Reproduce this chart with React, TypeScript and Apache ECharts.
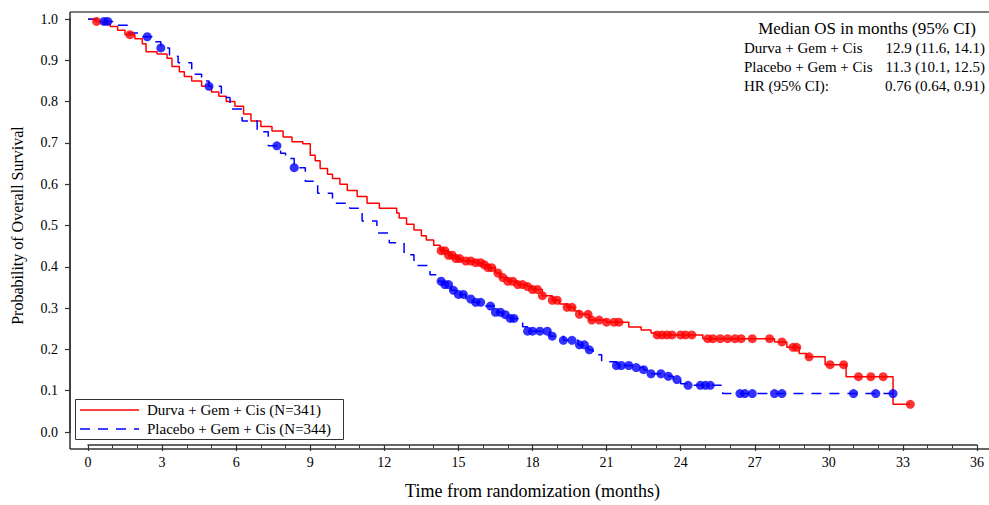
import React, { useEffect, useRef } from "react";
import * as echarts from "echarts";

// ---- Data ----
const xTicks = [0, 3, 6, 9, 12, 15, 18, 21, 24, 27, 30, 33, 36];

const durvaName = "Durva + Gem + Cis (N=341)";
const placeboName = "Placebo + Gem + Cis (N=344)";

// Kaplan-Meier step points (event time, survival after event)
const durvaT = [0, 0.3, 0.6, 0.9, 1.2, 1.5, 1.9, 2.2, 2.35, 2.8, 3.2, 3.4, 3.7, 3.9, 4.2, 4.6, 5.0, 5.3, 5.6, 5.95, 6.3, 6.6, 7.0, 7.45, 7.9, 8.26, 8.7, 9.0, 9.2, 9.4, 9.7, 9.9, 10.2, 10.5, 10.9, 11.3, 11.8, 12.5, 12.6, 12.9, 13.2, 13.5, 13.7, 14.0, 14.26, 14.6, 14.9, 15.1, 15.7, 16.0, 16.2, 16.5, 16.7, 17.0, 17.4, 17.8, 18.0, 18.4, 18.8, 19.1, 19.4, 19.7, 19.9, 20.3, 21.0, 21.9, 22.4, 22.8, 23.0, 24.9, 27.8, 28.3, 28.8, 29.1, 29.85, 30.7, 32.6, 33.3];
const durvaS = [1.0, 0.994, 0.988, 0.982, 0.973, 0.962, 0.952, 0.94, 0.921, 0.915, 0.905, 0.885, 0.872, 0.861, 0.85, 0.837, 0.823, 0.813, 0.8, 0.789, 0.77, 0.753, 0.74, 0.729, 0.714, 0.703, 0.698, 0.67, 0.657, 0.638, 0.624, 0.614, 0.6, 0.585, 0.57, 0.554, 0.542, 0.53, 0.518, 0.503, 0.489, 0.475, 0.465, 0.452, 0.439, 0.428, 0.42, 0.414, 0.41, 0.405, 0.398, 0.385, 0.374, 0.365, 0.357, 0.352, 0.345, 0.33, 0.319, 0.31, 0.302, 0.293, 0.285, 0.271, 0.266, 0.254, 0.247, 0.24, 0.235, 0.226, 0.218, 0.205, 0.19, 0.182, 0.163, 0.134, 0.067, 0.067];
const durvaCensor = [0.35, 1.7, 14.3, 14.45, 14.6, 14.75, 14.9, 15.05, 15.3, 15.5, 15.7, 15.9, 16.05, 16.2, 16.35, 16.6, 16.8, 17.0, 17.2, 17.4, 17.6, 17.8, 18.0, 18.2, 18.4, 18.8, 19.0, 19.4, 19.6, 19.9, 20.25, 20.4, 20.7, 21.0, 21.3, 21.5, 23.05, 23.25, 23.45, 23.65, 24.0, 24.2, 24.45, 25.1, 25.3, 25.6, 25.9, 26.2, 26.45, 26.9, 27.6, 28.1, 28.55, 28.7, 29.2, 30.05, 30.6, 31.2, 31.7, 32.2, 33.3];

const placeboT = [0, 0.5, 1.0, 1.6, 2.1, 2.6, 2.95, 3.3, 3.65, 4.2, 4.6, 4.9, 5.4, 5.75, 6.24, 6.85, 7.3, 7.8, 8.0, 8.35, 8.8, 9.3, 9.9, 10.6, 11.1, 11.7, 12.2, 12.8, 13.2, 13.85, 14.2, 14.4, 14.7, 14.9, 15.3, 15.6, 16.1, 16.5, 16.8, 17.1, 17.4, 17.6, 17.8, 18.7, 19.25, 19.85, 20.25, 20.45, 20.8, 21.4, 22.1, 22.5, 22.8, 23.5, 23.7, 24.0, 24.3, 25.7, 32.6];
const placeboS = [1.0, 0.994, 0.985, 0.966, 0.957, 0.945, 0.93, 0.91, 0.894, 0.866, 0.85, 0.837, 0.81, 0.782, 0.753, 0.727, 0.693, 0.675, 0.662, 0.64, 0.607, 0.578, 0.554, 0.542, 0.511, 0.482, 0.458, 0.429, 0.403, 0.381, 0.365, 0.357, 0.343, 0.333, 0.322, 0.314, 0.305, 0.29, 0.284, 0.275, 0.27, 0.255, 0.244, 0.232, 0.222, 0.211, 0.199, 0.187, 0.17, 0.161, 0.156, 0.151, 0.141, 0.135, 0.127, 0.117, 0.113, 0.093, 0.093];
const placeboCensor = [0.65, 0.8, 2.4, 2.95, 4.9, 7.65, 8.35, 14.3, 14.45, 14.6, 14.8, 15.0, 15.2, 15.5, 15.7, 15.9, 16.3, 16.5, 16.7, 16.9, 17.1, 17.25, 17.8, 18.0, 18.3, 18.6, 18.8, 19.25, 19.6, 19.9, 20.1, 20.3, 21.4, 21.6, 21.9, 22.2, 22.5, 22.8, 23.2, 23.5, 23.85, 24.3, 24.8, 25.0, 25.2, 26.4, 26.6, 26.9, 27.8, 28.1, 31.0, 31.9, 32.6];

const medianTitle = "Median OS in months (95% CI)";
const medianRows = [
  ["Durva + Gem + Cis", "12.9 (11.6, 14.1)"],
  ["Placebo + Gem + Cis", "11.3 (10.1, 12.5)"],
  ["HR (95% CI):", "0.76 (0.64, 0.91)"],
];

const RED = "#ff0000";
const BLUE = "#0000ff";
const FONT = "Liberation Serif";

function survAt(ts: number[], ss: number[], t: number) {
  let s = ss[0];
  for (let i = 0; i < ts.length; i++) {
    if (ts[i] <= t) s = ss[i];
    else break;
  }
  return s;
}

export default function App() {
  const ref = useRef<HTMLDivElement>(null);
  useEffect(() => {
    if (!ref.current) return;
    const chart = echarts.init(ref.current, null, { renderer: "svg" });
    const durvaLine = durvaT.map((t, i) => [t, durvaS[i]]);
    const placeboLine = placeboT.map((t, i) => [t, placeboS[i]]);
    const durvaC = durvaCensor.map((t) => [t, survAt(durvaT, durvaS, t)]);
    const placeboC = placeboCensor.map((t) => [t, survAt(placeboT, placeboS, t)]);

    const graphics: any[] = [];
    // plot frame
    graphics.push({
      type: "line",
      shape: { x1: 70, y1: 12, x2: 989, y2: 12 },
      style: { stroke: "#555", lineWidth: 1.5 },
      silent: true,
    });
    graphics.push({
      type: "line",
      shape: { x1: 70, y1: 12, x2: 70, y2: 449 },
      style: { stroke: "#333", lineWidth: 1.5 },
      silent: true,
    });
    graphics.push({
      type: "line",
      shape: { x1: 70, y1: 449, x2: 989, y2: 449 },
      style: { stroke: "#333", lineWidth: 1.5 },
      silent: true,
    });
    graphics.push({
      type: "text",
      x: 867,
      y: 28,
      style: { text: medianTitle, font: `17px "${FONT}"`, fill: "#000", align: "center", verticalAlign: "middle" },
    });
    medianRows.forEach((r, i) => {
      const y = 48 + i * 19;
      graphics.push({
        type: "text",
        x: 744,
        y,
        style: { text: r[0], font: `15px "${FONT}"`, fill: "#000", align: "left", verticalAlign: "middle" },
      });
      graphics.push({
        type: "text",
        x: 985,
        y,
        style: { text: r[1], font: `15px "${FONT}"`, fill: "#000", align: "right", verticalAlign: "middle" },
      });
    });
    graphics.push({
      type: "rect",
      shape: { x: 75.5, y: 399.5, width: 268, height: 40 },
      style: { fill: "#fff", stroke: "#333", lineWidth: 1 },
      z: 10,
    });
    graphics.push({
      type: "line",
      shape: { x1: 80, y1: 410, x2: 139, y2: 410 },
      style: { stroke: RED, lineWidth: 1.5 },
      z: 11,
    });
    graphics.push({
      type: "line",
      shape: { x1: 80, y1: 429, x2: 139, y2: 429 },
      style: { stroke: BLUE, lineWidth: 1.5, lineDash: [10, 8] },
      z: 11,
    });
    graphics.push({
      type: "text",
      x: 147,
      y: 410,
      style: { text: durvaName, font: `15px "${FONT}"`, fill: "#000", verticalAlign: "middle" },
      z: 11,
    });
    graphics.push({
      type: "text",
      x: 147,
      y: 429,
      style: { text: placeboName, font: `15px "${FONT}"`, fill: "#000", verticalAlign: "middle" },
      z: 11,
    });

    chart.setOption({
      animation: false,
      backgroundColor: "#fff",
      grid: { left: 88, right: 12, top: 19, bottom: 69, containLabel: false },
      xAxis: {
        type: "value",
        min: 0,
        max: 36,
        interval: 3,
        offset: 13,
        name: "Time from randomization (months)",
        nameLocation: "middle",
        nameGap: 37,
        nameTextStyle: { fontFamily: FONT, fontSize: 18, color: "#000" },
        axisLine: { show: true, onZero: false, lineStyle: { color: "#333", width: 1.5 } },
        axisTick: { show: true, inside: false, length: 6, lineStyle: { color: "#333", width: 1.2 } },
        minorTick: { show: true, splitNumber: 3, length: 3, lineStyle: { color: "#333", width: 1 } },
        axisLabel: {
          fontFamily: FONT,
          fontSize: 14,
          color: "#000",
          margin: 10,
          formatter: (v: number) => (xTicks.includes(v) ? String(v) : ""),
        },
        splitLine: { show: false },
      },
      yAxis: {
        type: "value",
        min: 0,
        max: 1,
        interval: 0.1,
        offset: 18,
        name: "Probability of Overall Survival",
        nameLocation: "middle",
        nameGap: 45,
        nameRotate: 90,
        nameTextStyle: { fontFamily: FONT, fontSize: 16, color: "#000" },
        axisLine: { show: true, onZero: false, lineStyle: { color: "#333", width: 1.5 } },
        axisTick: { show: true, inside: false, length: 5, lineStyle: { color: "#333", width: 1.2 } },
        axisLabel: {
          fontFamily: FONT,
          fontSize: 14,
          color: "#000",
          margin: 12,
          formatter: (v: number) => v.toFixed(1),
        },
        splitLine: { show: false },
      },
      series: [
        {
          name: durvaName,
          type: "line",
          step: "end",
          data: durvaLine,
          showSymbol: false,
          symbol: "none",
          lineStyle: { color: RED, width: 1.5 },
          z: 3,
        },
        {
          name: placeboName,
          type: "line",
          step: "end",
          data: placeboLine,
          showSymbol: false,
          symbol: "none",
          lineStyle: { color: BLUE, width: 1.5, type: [10, 8] },
          z: 3,
        },
        {
          name: "Durva censored",
          type: "scatter",
          data: durvaC,
          symbol: "circle",
          symbolSize: 9,
          itemStyle: { color: RED },
          z: 4,
        },
        {
          name: "Placebo censored",
          type: "scatter",
          data: placeboC,
          symbol: "circle",
          symbolSize: 9,
          itemStyle: { color: BLUE },
          z: 4,
        },
      ],
      graphic: graphics,
    });
    return () => chart.dispose();
  }, []);
  return (
    <div
      ref={ref}
      style={{ position: "fixed", left: 0, top: 0, width: 989, height: 505, background: "#fff" }}
    />
  );
}
